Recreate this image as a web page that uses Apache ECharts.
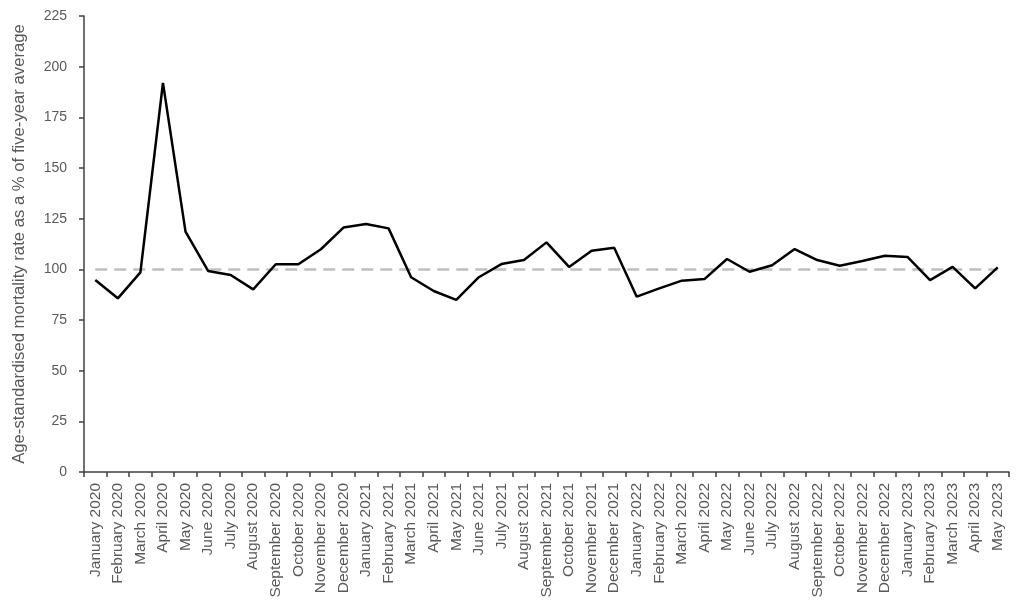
<!DOCTYPE html>
<html>
<head>
<meta charset="utf-8">
<script src="https://cdn.jsdelivr.net/npm/echarts@6/dist/echarts.min.js"></script>
<style>html,body{margin:0;padding:0;background:#fff}#c{width:1024px;height:606px}</style>
</head>
<body>
<div id="c"></div>
<script>
const categories = [
  "January 2020","February 2020","March 2020","April 2020","May 2020","June 2020","July 2020","August 2020","September 2020","October 2020","November 2020","December 2020",
  "January 2021","February 2021","March 2021","April 2021","May 2021","June 2021","July 2021","August 2021","September 2021","October 2021","November 2021","December 2021",
  "January 2022","February 2022","March 2022","April 2022","May 2022","June 2022","July 2022","August 2022","September 2022","October 2022","November 2022","December 2022",
  "January 2023","February 2023","March 2023","April 2023","May 2023"
];
const mortalityPct = [
  94.7, 85.7, 98.5, 192.0, 118.6, 99.2, 97.2, 90.1, 102.5, 102.5, 109.9, 120.6,
  122.4, 120.2, 96.1, 89.3, 84.9, 96.1, 102.6, 104.6, 113.3, 101.2, 109.2, 110.7,
  86.5, 90.6, 94.4, 95.2, 105.1, 98.8, 102.0, 110.0, 104.6, 101.8, 104.1, 106.7,
  106.1, 94.7, 101.2, 90.6, 101.0
];
const baseline = 100;
const yTicks = { min: 0, max: 225, interval: 25 };
const yTitle = "Age-standardised mortality rate as a % of five-year average";

const font = "'Liberation Sans', Arial, sans-serif";
const chart = echarts.init(document.getElementById('c'), null, { renderer: 'canvas' });
chart.setOption({
  animation: false,
  backgroundColor: '#ffffff',
  grid: { left: 84, right: 15, top: 16, bottom: 134, containLabel: false },
  xAxis: {
    type: 'category',
    data: categories,
    boundaryGap: true,
    axisLine: { lineStyle: { color: '#404040', width: 1.5 } },
    axisTick: { show: true, alignWithLabel: false, length: 5, lineStyle: { color: '#404040', width: 1.5 } },
    axisLabel: { rotate: 90, interval: 0, color: '#595959', fontSize: 15.5, fontFamily: font, margin: 11 },
    splitLine: { show: false }
  },
  yAxis: {
    type: 'value',
    min: yTicks.min, max: yTicks.max, interval: yTicks.interval,
    name: yTitle,
    nameLocation: 'middle',
    nameGap: 56,
    nameRotate: 90,
    nameTextStyle: { color: '#595959', fontSize: 16.7, fontFamily: font },
    axisLine: { show: true, lineStyle: { color: '#404040', width: 1.5 } },
    axisTick: { show: true, length: 5, lineStyle: { color: '#404040', width: 1.5 } },
    axisLabel: { color: '#595959', fontSize: 14, fontFamily: font, margin: 17 },
    splitLine: { show: false }
  },
  series: [{
    type: 'line',
    data: mortalityPct,
    symbol: 'none',
    lineStyle: { color: '#000000', width: 2.5 },
    z: 3,
    markLine: {
      silent: true,
      symbol: ['none', 'none'],
      label: { show: false },
      lineStyle: { color: '#bfbfbf', width: 2.5, type: [12, 7] },
      data: [[{ coord: [categories[0], baseline] }, { coord: [categories[categories.length - 1], baseline] }]],
      z: 1
    }
  }]
});
</script>
</body>
</html>
